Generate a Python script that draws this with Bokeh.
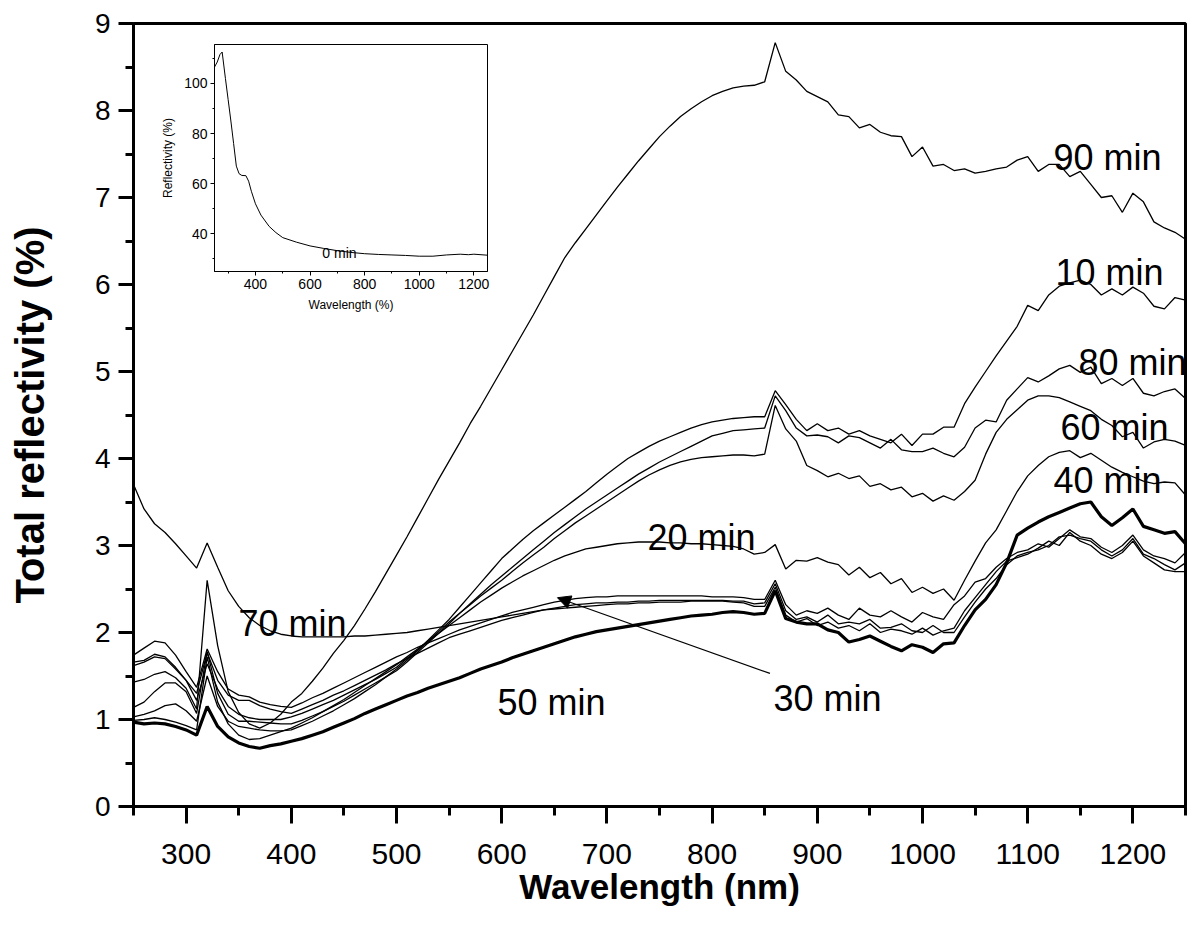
from bokeh.plotting import figure
from bokeh.models import (Range1d, LinearAxis, FixedTicker, Arrow, NormalHead)
from bokeh.core.properties import value
from bokeh.embed import file_html
from bokeh.resources import INLINE

# ---------------- data ----------------
wl = list(range(250, 1251, 10))

min50 = [0.97, 0.95, 0.96, 0.95, 0.92, 0.88, 0.82, 1.15, 0.92, 0.80, 0.73, 0.69, 0.67, 0.70, 0.72, 0.75,
         0.78, 0.82, 0.86, 0.91, 0.96, 1.01, 1.07, 1.12, 1.17, 1.22,
         1.27, 1.31, 1.36, 1.40, 1.44, 1.48, 1.53, 1.58, 1.62, 1.66,
         1.71, 1.75, 1.79, 1.83, 1.87, 1.91, 1.95, 1.98, 2.01, 2.03,
         2.05, 2.07, 2.09, 2.11, 2.13, 2.15, 2.17, 2.19, 2.20, 2.21,
         2.23, 2.24, 2.23, 2.21, 2.22,
         2.48, 2.16, 2.12, 2.10, 2.10, 2.03, 2.00, 1.89, 1.92, 1.96,
         1.90, 1.84, 1.79, 1.86, 1.83, 1.77, 1.87, 1.88, 2.08, 2.26,
         2.38, 2.55, 2.80, 3.12, 3.20, 3.27, 3.33, 3.38, 3.43, 3.48,
         3.50, 3.33, 3.23, 3.32, 3.42, 3.22, 3.18, 3.14, 3.16, 3.02]

min90 = [1.43, 1.46, 1.52, 1.55, 1.48, 1.36, 1.12, 2.60, 1.85, 1.32, 1.08, 0.95, 0.90, 0.96, 1.06, 1.20,
         1.30, 1.44, 1.59, 1.76, 1.91, 2.08, 2.27, 2.47, 2.68, 2.89,
         3.10, 3.32, 3.54, 3.76, 3.97, 4.18, 4.40, 4.60, 4.81, 5.02,
         5.23, 5.44, 5.65, 5.87, 6.09, 6.31, 6.48, 6.64, 6.80, 6.96,
         7.12, 7.27, 7.42, 7.56, 7.70, 7.82, 7.93, 8.02, 8.10, 8.17,
         8.22, 8.26, 8.28, 8.29, 8.33,
         8.78, 8.45, 8.35, 8.22, 8.16, 8.10, 7.95, 7.93, 7.80, 7.84,
         7.75, 7.71, 7.70, 7.47, 7.58, 7.36, 7.38, 7.31, 7.33, 7.28,
         7.30, 7.33, 7.35, 7.43, 7.47, 7.30, 7.38, 7.38, 7.24, 7.30,
         7.15, 7.00, 7.02, 6.83, 7.05, 6.95, 6.72, 6.65, 6.60, 6.52]

min70 = [3.70, 3.42, 3.25, 3.15, 3.02, 2.88, 2.74, 3.03, 2.75, 2.48, 2.30, 2.17, 2.08, 2.02, 1.98, 1.96,
         1.95, 1.95, 1.95, 1.95, 1.95, 1.96, 1.96, 1.97, 1.98, 1.99,
         2.00, 2.02, 2.04, 2.06, 2.08, 2.10, 2.12, 2.14, 2.16, 2.18,
         2.20, 2.22, 2.24, 2.26, 2.27, 2.28, 2.29, 2.30, 2.31, 2.32,
         2.33, 2.33, 2.34, 2.34, 2.35, 2.35, 2.35, 2.36, 2.36, 2.36,
         2.36, 2.35, 2.34, 2.30, 2.30,
         2.52, 2.20, 2.12, 2.16, 2.08, 2.12, 2.05, 2.08, 2.02, 2.10,
         2.00, 2.04, 2.02, 1.98, 2.05, 1.97, 2.02, 2.05, 2.25, 2.40,
         2.55, 2.70, 2.82, 2.86, 2.90, 2.97, 3.05, 3.00, 3.15, 3.05,
         3.00, 2.90, 2.85, 2.92, 3.05, 2.88, 2.80, 2.72, 2.70, 2.70]

min30 = [1.74, 1.82, 1.90, 1.88, 1.74, 1.55, 1.37, 1.81, 1.55, 1.35, 1.28, 1.26, 1.20, 1.17, 1.15, 1.14,
         1.19, 1.25, 1.30, 1.36, 1.42, 1.48, 1.54, 1.60, 1.66, 1.72,
         1.77, 1.83, 1.88, 1.93, 1.98, 2.03, 2.07, 2.11, 2.15, 2.19,
         2.23, 2.26, 2.29, 2.32, 2.35, 2.37, 2.39, 2.40, 2.41, 2.41,
         2.42, 2.42, 2.42, 2.42, 2.42, 2.42, 2.42, 2.42, 2.42, 2.41,
         2.41, 2.41, 2.40, 2.38, 2.38,
         2.60, 2.32, 2.20, 2.25, 2.22, 2.28, 2.20, 2.15, 2.28, 2.20,
         2.18, 2.25, 2.18, 2.12, 2.23, 2.18, 2.15, 2.32, 2.42, 2.58,
         2.62, 2.75, 2.85, 2.92, 2.95, 3.02, 2.98, 3.08, 3.18, 3.10,
         3.08, 2.98, 2.92, 3.00, 3.12, 2.95, 2.88, 2.85, 2.80, 2.92]

min20 = [1.66, 1.68, 1.75, 1.72, 1.60, 1.45, 1.30, 1.77, 1.45, 1.28, 1.22, 1.22, 1.16, 1.12, 1.09, 1.07,
         1.12, 1.17, 1.22, 1.28, 1.33, 1.39, 1.45, 1.51, 1.57, 1.64,
         1.70, 1.76, 1.82, 1.88, 1.94, 1.98, 2.02, 2.06, 2.10, 2.14,
         2.17, 2.20, 2.23, 2.26, 2.28, 2.30, 2.32, 2.33, 2.34, 2.34,
         2.35, 2.35, 2.36, 2.36, 2.37, 2.37, 2.37, 2.37, 2.37, 2.37,
         2.37, 2.36, 2.36, 2.33, 2.34,
         2.56, 2.25, 2.15, 2.18, 2.12, 2.20, 2.10, 2.12, 2.10, 2.15,
         2.05, 2.06, 2.10, 2.02, 2.00, 2.08, 2.00, 2.00, 2.18, 2.35,
         2.50, 2.62, 2.78, 2.88, 2.92, 2.95, 3.00, 3.10, 3.12, 3.08,
         3.05, 2.95, 2.88, 2.95, 3.08, 2.90, 2.85, 2.78, 2.72, 2.80]

min10 = [1.62, 1.66, 1.72, 1.70, 1.58, 1.45, 1.22, 1.64, 1.35, 1.15, 1.06, 1.02, 1.00, 1.00, 1.00, 1.03,
         1.07, 1.12, 1.17, 1.22, 1.28, 1.34, 1.40, 1.46, 1.53, 1.60,
         1.70, 1.80, 1.91, 2.03, 2.15, 2.29, 2.43, 2.57, 2.71, 2.85,
         2.96, 3.07, 3.17, 3.26, 3.35, 3.44, 3.53, 3.62, 3.72, 3.82,
         3.91, 4.00, 4.07, 4.14, 4.20, 4.25, 4.30, 4.35, 4.39, 4.42,
         4.44, 4.46, 4.47, 4.48, 4.48,
         4.78, 4.62, 4.45, 4.32, 4.40, 4.32, 4.35, 4.28, 4.32, 4.26,
         4.22, 4.18, 4.28, 4.15, 4.28, 4.28, 4.36, 4.36, 4.63, 4.82,
         5.00, 5.18, 5.35, 5.52, 5.76, 5.70, 5.88, 5.98, 6.02, 6.05,
         6.00, 5.88, 5.95, 5.88, 5.97, 5.90, 5.75, 5.72, 5.85, 5.82]

min80 = [1.14, 1.20, 1.32, 1.42, 1.42, 1.32, 1.07, 1.78, 1.30, 1.06, 0.98, 0.98, 0.97, 0.96, 0.95, 0.95,
         0.99, 1.04, 1.09, 1.15, 1.21, 1.28, 1.35, 1.42, 1.49, 1.56,
         1.66, 1.77, 1.88, 1.99, 2.10, 2.22, 2.33, 2.44, 2.55, 2.65,
         2.75, 2.85, 2.95, 3.05, 3.15, 3.24, 3.33, 3.42, 3.50, 3.58,
         3.66, 3.74, 3.82, 3.89, 3.96, 4.02, 4.08, 4.14, 4.20, 4.26,
         4.29, 4.32, 4.33, 4.34, 4.35,
         4.72, 4.55, 4.35, 4.26, 4.27, 4.25, 4.18, 4.26, 4.24, 4.18,
         4.12, 4.22, 4.10, 4.08, 4.08, 4.12, 4.06, 4.02, 4.13, 4.35,
         4.44, 4.42, 4.67, 4.80, 4.93, 4.88, 4.95, 5.03, 5.07, 4.99,
         5.05, 4.86, 4.92, 4.84, 4.92, 4.75, 4.72, 4.77, 4.80, 4.69]

min60 = [1.03, 1.06, 1.10, 1.16, 1.18, 1.10, 0.98, 1.50, 1.15, 0.98, 0.92, 0.90, 0.88, 0.87, 0.87, 0.88,
         0.93, 0.98, 1.04, 1.10, 1.17, 1.24, 1.32, 1.40, 1.49, 1.58,
         1.68, 1.79, 1.90, 2.01, 2.12, 2.22, 2.32, 2.42, 2.51, 2.60,
         2.70, 2.80, 2.89, 2.98, 3.08, 3.17, 3.26, 3.34, 3.42, 3.50,
         3.58, 3.66, 3.74, 3.81, 3.87, 3.92, 3.96, 3.99, 4.01, 4.02,
         4.03, 4.04, 4.04, 4.03, 4.05,
         4.61, 4.34, 4.20, 3.92, 3.86, 3.79, 3.83, 3.77, 3.80, 3.68,
         3.71, 3.64, 3.67, 3.56, 3.60, 3.51, 3.57, 3.52, 3.62, 3.75,
         4.05, 4.30, 4.45, 4.56, 4.67, 4.72, 4.72, 4.70, 4.65, 4.60,
         4.55, 4.45, 4.38, 4.25, 4.30, 4.12, 4.19, 4.22, 4.20, 4.15]

min40 = [0.99, 1.00, 1.02, 1.00, 0.97, 0.93, 0.88, 1.72, 1.20, 0.95, 0.82, 0.77, 0.78, 0.82, 0.86, 0.90,
         0.96, 1.02, 1.09, 1.16, 1.23, 1.31, 1.39, 1.47, 1.55, 1.63,
         1.72, 1.81, 1.90, 1.99, 2.08, 2.17, 2.26, 2.35, 2.43, 2.51,
         2.58, 2.65, 2.71, 2.77, 2.83, 2.88, 2.92, 2.96, 2.98, 3.00,
         3.02, 3.03, 3.04, 3.04, 3.04, 3.03, 3.03, 3.02, 3.02, 3.01,
         3.00, 2.99, 2.96, 2.90, 2.92,
         3.01, 2.73, 2.83, 2.82, 2.86, 2.81, 2.78, 2.66, 2.75, 2.63,
         2.69, 2.56, 2.62, 2.46, 2.52, 2.45, 2.50, 2.37, 2.60, 2.82,
         3.03, 3.18, 3.40, 3.62, 3.80, 3.92, 4.02, 4.07, 4.09, 4.01,
         4.06, 3.98, 3.90, 3.84, 3.79, 3.74, 3.71, 3.73, 3.72, 3.58]

thin_series = [min90, min70, min30, min20, min10, min80, min60, min40]

# inset: 0 min
inset_wl = [250, 260, 270, 278, 290, 300, 310, 320, 330, 340, 350, 365, 375, 385, 400, 420,
            450, 475, 500, 550, 600, 650, 700, 750, 800, 850, 900, 950, 1000, 1050, 1100,
            1150, 1180, 1200, 1250]
inset_r = [106.5, 108.5, 111.5, 112.5, 102.0, 93.5, 85.0, 76.0, 67.0, 64.0, 63.3, 63.2, 61.0,
           57.0, 52.0, 47.5, 43.0, 40.5, 38.5, 36.7, 35.2, 34.2, 33.3, 32.6, 32.1, 31.8, 31.6,
           31.4, 31.1, 31.1, 31.6, 31.9, 31.7, 31.9, 31.5]

labels = ["90 min", "10 min", "80 min", "60 min", "40 min", "20 min", "70 min", "50 min", "30 min"]
label_x = [1124.5, 1126.4, 1148.3, 1131.2, 1124.5, 738.6, 349.8, 596.0, 858.4]
label_y = [7.46, 6.14, 5.107, 4.36, 3.747, 3.095, 2.103, 1.199, 1.241]

x_ticks = [300, 400, 500, 600, 700, 800, 900, 1000, 1100, 1200]
y_ticks = [0, 1, 2, 3, 4, 5, 6, 7, 8, 9]

# ---------------- layout ----------------
W, H = 1192, 922
BL, BR, BT, BB = 133, 7, 23, 116
FW, FH = W - BL - BR, H - BT - BB
# inset frame inside the main frame (pixels from frame left/top)
IL, IR, IT, IB = 81, 354, 21, 248
ix0, ix1 = 250, 1250
iy0, iy1 = 25, 115.5
sx = (IR - IL) / (ix1 - ix0)
sy = (IB - IT) / (iy1 - iy0)

FONT = "Liberation Sans"

p = figure(width=W, height=H, x_range=Range1d(250, 1250), y_range=Range1d(0, 9),
           output_backend="svg", toolbar_location=None,
           min_border_left=BL, min_border_right=BR, min_border_top=BT, min_border_bottom=BB)
p.grid.visible = False
p.outline_line_color = "black"
p.outline_line_width = 3
p.background_fill_color = "white"
p.border_fill_color = "white"

xa = p.xaxis[0]
xa.ticker = FixedTicker(ticks=x_ticks, minor_ticks=[250 + 100 * i for i in range(11)])
xa.axis_label = "Wavelength (nm)"
ya = p.yaxis[0]
ya.ticker = FixedTicker(ticks=y_ticks, minor_ticks=[0.5 + i for i in range(9)])
ya.axis_label = "Total reflectivity (%)"
for ax in (xa, ya):
    ax.axis_line_width = 3
    ax.major_tick_line_width = 3
    ax.minor_tick_line_width = 3
    ax.major_tick_in = 0
    ax.minor_tick_in = 0
    ax.major_label_text_font = FONT
    ax.major_label_text_color = "black"
    ax.axis_label_text_font = FONT
    ax.axis_label_text_font_style = "bold"
    ax.axis_label_text_color = "black"
xa.major_label_text_font_size = "30px"
ya.major_label_text_font_size = "28px"
xa.axis_label_text_font_size = "35px"
ya.axis_label_text_font_size = "40px"
xa.major_tick_out = 17
xa.minor_tick_out = 9
xa.major_label_standoff = 20
xa.axis_label_standoff = 0
ya.major_tick_out = 15
ya.minor_tick_out = 8
ya.major_label_standoff = 8
ya.axis_label_standoff = 40

# inset ranges
p.extra_x_ranges = {"ix": Range1d(ix0 - IL / sx, ix1 + (FW - IR) / sx)}
p.extra_y_ranges = {"iy": Range1d(iy0 - (FH - IB) / sy, iy1 + IT / sy)}

# main curves
for s in thin_series:
    p.line(wl, s, line_color="black", line_width=1.3)
p.line(wl, min50, line_color="black", line_width=3.2)

# curve labels
p.text(x=label_x, y=label_y, text=labels, text_font=value(FONT),
       text_font_size=value("36px"), text_color="black",
       text_align="left", text_baseline="alphabetic")

p.add_layout(Arrow(end=NormalHead(size=13, fill_color="black", line_color="black"),
                   x_start=855, y_start=1.53, x_end=653, y_end=2.40,
                   line_color="black", line_width=1.2))

# inset
p.quad(left=[ix0], right=[ix1], bottom=[iy0], top=[iy1], x_range_name="ix", y_range_name="iy",
       fill_color="white", line_color="black", line_width=1)
p.line(inset_wl, inset_r, x_range_name="ix", y_range_name="iy", line_color="black", line_width=1)
p.text(x=[645], y=[32.2], text=["0 min"], x_range_name="ix", y_range_name="iy",
       text_font=value(FONT), text_font_size=value("14px"), text_color="black",
       text_align="left", text_baseline="alphabetic")

ixa = LinearAxis(x_range_name="ix", y_range_name="iy", fixed_location=iy0, bounds=(ix0, ix1),
                 ticker=FixedTicker(ticks=[400, 600, 800, 1000, 1200],
                                    minor_ticks=[300, 500, 700, 900, 1100]),
                 axis_label="Wavelength (%)")
iya = LinearAxis(x_range_name="ix", y_range_name="iy", fixed_location=ix0, bounds=(iy0, iy1),
                 ticker=FixedTicker(ticks=[40, 60, 80, 100], minor_ticks=[30, 50, 70, 90, 110]),
                 axis_label="Reflectivity (%)")
for ax in (ixa, iya):
    ax.axis_line_width = 1
    ax.major_tick_line_width = 1
    ax.minor_tick_line_width = 1
    ax.major_tick_in = 0
    ax.major_tick_out = 4
    ax.minor_tick_in = 0
    ax.minor_tick_out = 2
    ax.major_label_text_font = FONT
    ax.major_label_text_font_size = "14px"
    ax.major_label_text_color = "black"
    ax.major_label_standoff = 3
    ax.axis_label_text_font = FONT
    ax.axis_label_text_font_style = "normal"
    ax.axis_label_text_font_size = "12px"
    ax.axis_label_text_color = "black"
    ax.axis_label_standoff = 6
p.add_layout(ixa, "below")
p.add_layout(iya, "left")

open("out.html", "w").write(file_html(p, INLINE))
